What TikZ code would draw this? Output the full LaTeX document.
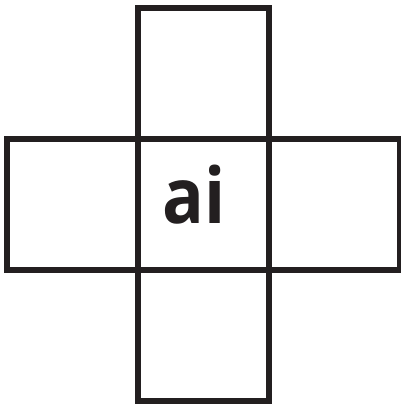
\documentclass[tikz,border=0pt]{standalone}
\usepackage{fontspec}
\newfontfamily\labelfont{Open Sans}
\definecolor{ink}{HTML}{231F20}
\begin{document}
\begin{tikzpicture}[x=1pt,y=1pt,
  cell/.style={draw=ink,line width=6pt,minimum size=131pt,inner sep=0pt,outer sep=0pt,shape=rectangle},
  lbl/.style={text=ink,font=\labelfont\bfseries\fontsize{77}{77}\selectfont,inner sep=0pt,anchor=base,xscale=0.9,transform shape}]
\useasboundingbox (0,0) rectangle (401,404);
\node[cell] (c) at (203.5,199.5) {};
\node[cell] (t) at (203.5,330.5) {};
\node[cell] (b) at (203.5,68.5) {};
\node[cell] (l) at (72.5,199.5) {};
\node[cell] (r) at (334.5,199.5) {};
\node[lbl] (txt) at (194,180) {ai};
\end{tikzpicture}
\end{document}
